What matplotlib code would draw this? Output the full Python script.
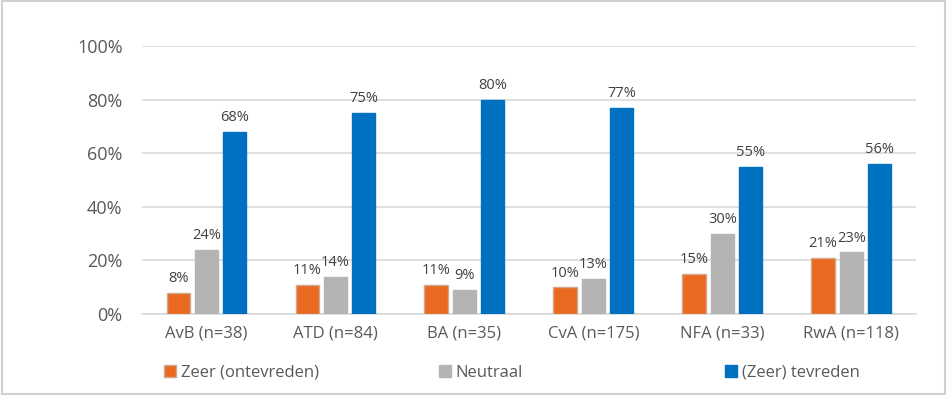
import numpy as np
import matplotlib
matplotlib.use('Agg')
import matplotlib.pyplot as plt
from matplotlib.patches import Rectangle
from matplotlib.ticker import PercentFormatter

plt.rcParams['font.family'] = ['Open Sans', 'DejaVu Sans']

# Data
categories = ['AvB (n=38)', 'ATD (n=84)', 'BA (n=35)', 'CvA (n=175)', 'NFA (n=33)', 'RwA (n=118)']
ontevreden = [8, 11, 11, 10, 15, 21]
neutraal = [24, 14, 9, 13, 30, 23]
tevreden = [68, 75, 80, 77, 55, 56]
series_names = ['Zeer (ontevreden)', 'Neutraal', '(Zeer) tevreden']

text_col = '#595959'
grid_col = '#d9d9d9'
colors = ['#E8691F', '#B4B4B4', '#0070C0']
edges = ['#D0A890', '#B4B4B4', '#0070C0']

fig = plt.figure(figsize=(9.47, 3.95), dpi=100)
ax = fig.add_axes([0.150, 0.205, 0.817, 0.6785])

x = np.arange(len(categories))
width = 0.18
offsets = [-0.22, 0.0, 0.22]
series = [ontevreden, neutraal, tevreden]

handles = []
for vals, off, c, ec, name in zip(series, offsets, colors, edges, series_names):
    bars = ax.bar(x + off, np.array(vals) / 100, width, color=c, edgecolor=ec,
                  linewidth=1, label=name, zorder=3)
    handles.append(bars)
    for b, v in zip(bars, vals):
        ax.text(b.get_x() + b.get_width() / 2, v / 100 + 0.025, f'{v}%',
                ha='center', va='bottom', fontsize=10.5, color='#404040')

ax.set_xlim(-0.5, len(categories) - 0.5)
ax.set_ylim(0, 1.0)
ax.set_yticks(np.arange(0, 1.01, 0.2))
ax.yaxis.set_major_formatter(PercentFormatter(1.0, decimals=0))
ax.set_xticks(x)
ax.set_xticklabels(categories)
ax.tick_params(axis='both', length=0, colors=text_col)
ax.tick_params(axis='y', pad=14, labelsize=13)
ax.tick_params(axis='x', pad=8, labelsize=12)
ax.grid(axis='y', color=grid_col, linewidth=1.2, zorder=0)
for s in ['top', 'right', 'left']:
    ax.spines[s].set_visible(False)
ax.spines['bottom'].set_color(grid_col)
ax.spines['bottom'].set_linewidth(1.2)

# legend entries placed individually, like the original's wide spacing
leg_x = [0.1735, 0.4635, 0.766]
for h, name, lx in zip(handles, series_names, leg_x):
    leg = fig.legend(handles=[h], labels=[name], loc='center left',
                     bbox_to_anchor=(lx, 0.056), frameon=False, fontsize=12,
                     labelcolor=text_col, handlelength=0.7, handleheight=0.7,
                     handletextpad=0.3, borderaxespad=0, borderpad=0)

# outer border
fig.patches.append(Rectangle((0.002, 0.003), 0.996, 0.994, transform=fig.transFigure,
                             fill=False, edgecolor='#d0d0d0', linewidth=1.5))

fig.savefig('out.png', dpi=100)
